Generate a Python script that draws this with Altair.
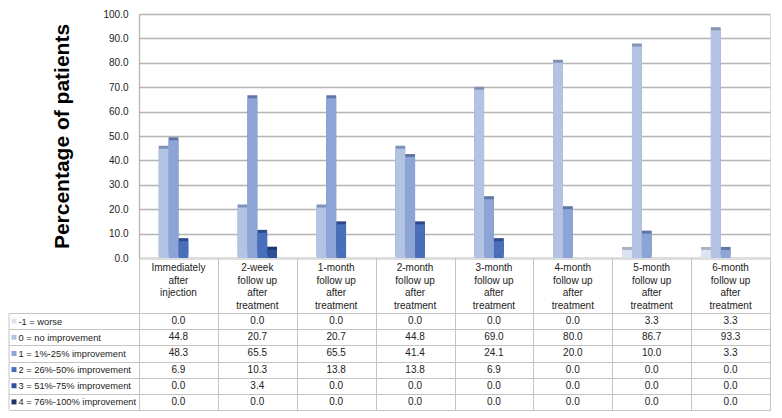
import altair as alt
import pandas as pd

categories = [
    "Immediately\nafter\ninjection",
    "2-week\nfollow up\nafter\ntreatment",
    "1-month\nfollow up\nafter\ntreatment",
    "2-month\nfollow up\nafter\ntreatment",
    "3-month\nfollow up\nafter\ntreatment",
    "4-month\nfollow up\nafter\ntreatment",
    "5-month\nfollow up\nafter\ntreatment",
    "6-month\nfollow up\nafter\ntreatment",
]
series = [
    "-1 = worse",
    "0 = no improvement",
    "1 = 1%-25% improvement",
    "2 = 26%-50% improvement",
    "3 = 51%-75% improvement",
    "4 = 76%-100% improvement",
]
worse = [0.0, 0.0, 0.0, 0.0, 0.0, 0.0, 3.3, 3.3]
no_improvement = [44.8, 20.7, 20.7, 44.8, 69.0, 80.0, 86.7, 93.3]
impr_1_25 = [48.3, 65.5, 65.5, 41.4, 24.1, 20.0, 10.0, 3.3]
impr_26_50 = [6.9, 10.3, 13.8, 13.8, 6.9, 0.0, 0.0, 0.0]
impr_51_75 = [0.0, 3.4, 0.0, 0.0, 0.0, 0.0, 0.0, 0.0]
impr_76_100 = [0.0, 0.0, 0.0, 0.0, 0.0, 0.0, 0.0, 0.0]
y_ticks = [0, 10, 20, 30, 40, 50, 60, 70, 80, 90, 100]

front_colors = ["#dde3ef", "#b3c3e3", "#8ca5d6", "#4a6fba", "#2e4f9a", "#1c3166"]
side_colors = ["#a9b3c6", "#8193b5", "#5f76a3", "#30498a", "#1d336b", "#101d42"]

all_values = [worse, no_improvement, impr_1_25, impr_26_50, impr_51_75, impr_76_100]
rows = []
for s, vals in zip(series, all_values):
    for c, v in zip(categories, vals):
        rows.append({"cat": c, "series": s, "value": v})
df = pd.DataFrame(rows)
cat_df = pd.DataFrame({"cat": categories})
series_df = pd.DataFrame({"series": series})

FONT = "Liberation Sans"
GRID = "#b4b4b4"
TGRID = "#c4c4c4"
TXT = "#222222"
PLOT_W = 631
LEFT_COL = 130

xscale = alt.Scale(domain=categories, paddingInner=0.25, paddingOuter=0.125)
base = alt.Chart(df).encode(
    x=alt.X("cat:N", sort=categories, scale=xscale,
            axis=alt.Axis(labels=False, ticks=False, title=None, grid=False,
                          domainColor=GRID, domainWidth=1.3)),
    xOffset=alt.XOffset("series:N", sort=series,
                        scale=alt.Scale(domain=series, paddingInner=0, paddingOuter=0)),
    y=alt.Y("value:Q", scale=alt.Scale(domain=[0, 100], nice=False),
            axis=alt.Axis(values=y_ticks, format=".1f", title="Percentage of patients",
                          titleFontSize=21, titleFontWeight="bold", titleColor="#000000",
                          titlePadding=30, labelFontSize=10, labelColor=TXT, labelPadding=11,
                          ticks=False, domainColor=GRID, domainWidth=1.3,
                          gridColor=GRID, gridWidth=1.3)),
)
side = base.mark_bar(xOffset=3, yOffset=-3).encode(
    color=alt.Color("series:N", sort=series,
                    scale=alt.Scale(domain=series, range=side_colors), legend=None)
)
front = base.mark_bar().encode(
    color=alt.Color("series:N", sort=series,
                    scale=alt.Scale(domain=series, range=front_colors), legend=None)
)
bars = alt.layer(side, front).resolve_scale(color="independent").properties(
    width=PLOT_W, height=244
)

tscale = alt.Scale(domain=categories, paddingInner=0, paddingOuter=0)
header = alt.Chart(cat_df).mark_text(
    lineBreak="\n", baseline="top", align="center", fontSize=10, lineHeight=12.5,
    color=TXT, font=FONT
).encode(
    x=alt.X("cat:N", sort=categories, scale=tscale,
            axis=alt.Axis(labels=False, ticks=False, domain=False, title=None,
                          grid=True, tickBand="extent", gridColor=TGRID)),
    y=alt.value(5),
    text="cat:N",
).properties(width=PLOT_W, height=55)

body_x = alt.X("cat:N", sort=categories, scale=tscale,
               axis=alt.Axis(labels=False, ticks=False, domain=False, title=None,
                             grid=True, tickBand="extent", gridColor=TGRID))
body_y = alt.Y("series:N", sort=series,
               scale=alt.Scale(domain=series, paddingInner=0, paddingOuter=0),
               axis=alt.Axis(title=None, domain=False, ticks=True, tickSize=LEFT_COL,
                             tickBand="extent", tickColor=TGRID, grid=True, gridColor=TGRID,
                             labelAlign="left", labelPadding=-9, labelFontSize=9.3,
                             labelColor=TXT, labelLimit=200))
body_text = alt.Chart(df).mark_text(fontSize=10, color=TXT, font=FONT).encode(
    x=body_x, y=body_y, text=alt.Text("value:Q", format=".1f")
)
squares = alt.Chart(series_df).mark_square(size=25, opacity=1).encode(
    x=alt.value(-LEFT_COL + 5),
    y=alt.Y("series:N", sort=series),
    color=alt.Color("series:N", sort=series,
                    scale=alt.Scale(domain=series, range=front_colors), legend=None),
)
left_border = alt.Chart(pd.DataFrame({"a": [0]})).mark_rule(color=TGRID).encode(
    x=alt.value(-LEFT_COL), y=alt.value(0), y2=alt.value(97)
)
body = alt.layer(body_text, squares, left_border).properties(width=PLOT_W, height=97)

chart = alt.vconcat(bars, header, body, spacing=0, bounds="flush").properties(
    padding=0
).configure_view(stroke=None).configure(font=FONT).configure_axis(labelFont=FONT, titleFont=FONT)

chart.save("out.html", embed_options={"renderer": "svg", "actions": False})
